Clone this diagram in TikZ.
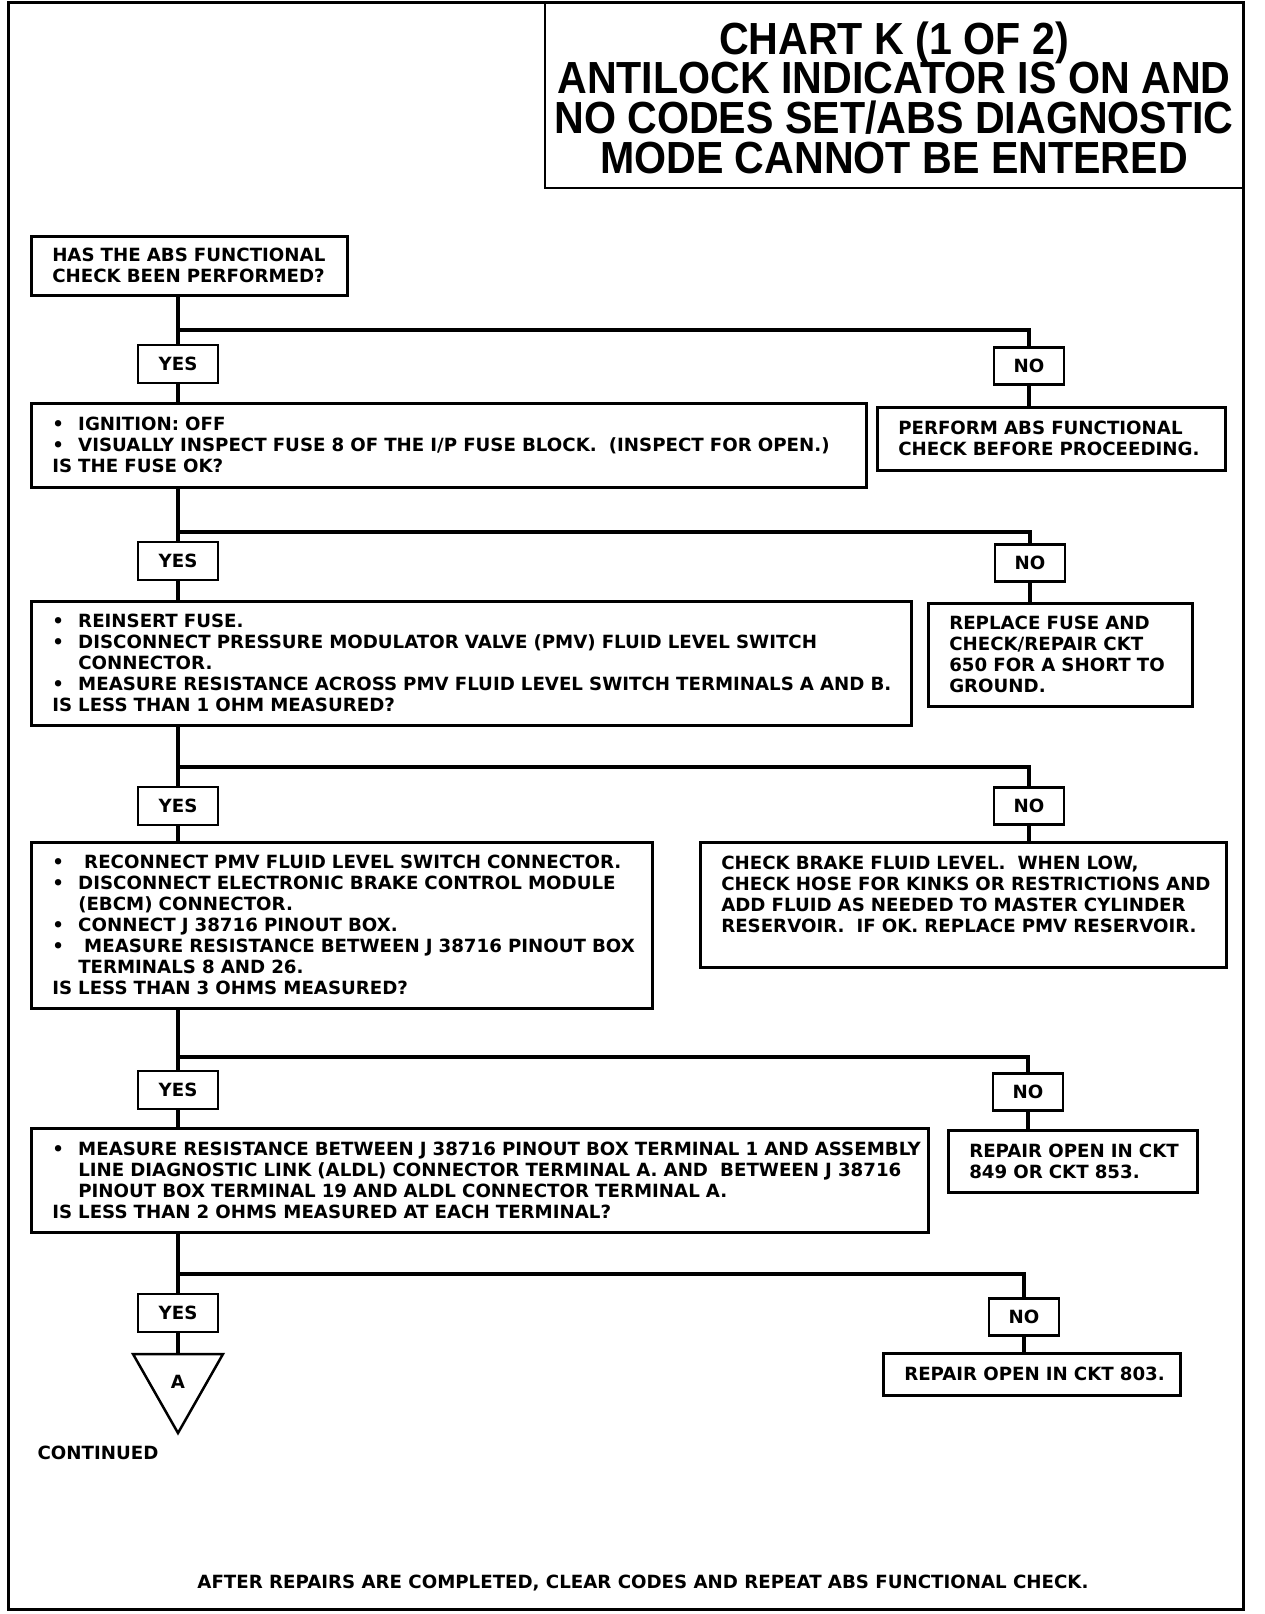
\documentclass[tikz,border=0pt]{standalone}
\usepackage{fontspec}
\newfontfamily\bodyfont{DejaVu Sans}
\newfontfamily\titlefont{Liberation Sans}[FakeStretch=0.915]
\newcommand{\bul}{\makebox[26pt][l]{•}}
\newcommand{\ind}{\hspace*{26pt}}
\newcommand{\li}[1]{\mbox{#1}}
\newcommand{\tline}[1]{\hbox to 0pt{\hss #1\hss}}
\begin{document}
\begin{tikzpicture}[x=1pt,y=-1pt,
  txt/.style={font=\bodyfont\bfseries\fontsize{18.2}{21}\selectfont},
  box/.style={txt, draw, line width=2.5pt, rectangle, anchor=north west, inner xsep=21pt, inner ysep=0pt, align=left},
  yesbox/.style={txt, draw, line width=2.5pt, minimum width=80pt, minimum height=38pt, inner sep=0pt},
  nobox/.style={txt, draw, line width=2.5pt, minimum width=70pt, minimum height=37pt, inner sep=0pt},
  conn/.style={line width=4.5pt},
  ttl/.style={font=\titlefont\bfseries\fontsize{45}{40}\selectfont, anchor=base, inner sep=0pt}
]
\useasboundingbox (0,0) rectangle (1264,1614);
% frame and title box
\draw[line width=3pt] (8,2) rectangle (1243,1609);
\draw[line width=2.5pt] (545,2) -- (545,188) -- (1243,188);
\node[ttl] (title) at (894,54) {\vtop{\baselineskip=39.7pt\lineskiplimit=-100pt
  \tline{CHART K (1 OF 2)}
  \tline{ANTILOCK INDICATOR IS ON AND}
  \tline{NO CODES SET/ABS DIAGNOSTIC}
  \tline{MODE CANNOT BE ENTERED}}};

% main boxes
\node[box, minimum width=316pt, minimum height=59pt, text width=274pt] (b1) at (30,235)
 {\li{HAS THE ABS FUNCTIONAL}\\\li{CHECK BEEN PERFORMED?}};
\node[box, minimum width=835pt, minimum height=84pt, text width=793pt] (b2) at (30,402)
 {\li{\bul IGNITION: OFF}\\
  \li{\bul VISUALLY INSPECT FUSE 8 OF THE I/P FUSE BLOCK.\ \ (INSPECT FOR OPEN.)}\\
  \li{IS THE FUSE OK?}};
\node[box, minimum width=880pt, minimum height=124pt, text width=838pt] (b3) at (30,600)
 {\li{\bul REINSERT FUSE.}\\
  \li{\bul DISCONNECT PRESSURE MODULATOR VALVE (PMV) FLUID LEVEL SWITCH}\\
  \li{\ind CONNECTOR.}\\
  \li{\bul MEASURE RESISTANCE ACROSS PMV FLUID LEVEL SWITCH TERMINALS A AND B.}\\
  \li{IS LESS THAN 1 OHM MEASURED?}};
\node[box, minimum width=621pt, minimum height=166pt, text width=579pt] (b4) at (30,841)
 {\li{\bul\hspace{6pt}RECONNECT PMV FLUID LEVEL SWITCH CONNECTOR.}\\
  \li{\bul DISCONNECT ELECTRONIC BRAKE CONTROL MODULE}\\
  \li{\ind (EBCM) CONNECTOR.}\\
  \li{\bul CONNECT J 38716 PINOUT BOX.}\\
  \li{\bul\hspace{6pt}MEASURE RESISTANCE BETWEEN J 38716 PINOUT BOX}\\
  \li{\ind TERMINALS 8 AND 26.}\\
  \li{IS LESS THAN 3 OHMS MEASURED?}};
\node[box, minimum width=897pt, minimum height=104pt, text width=855pt] (b5) at (30,1127)
 {\li{\bul MEASURE RESISTANCE BETWEEN J 38716 PINOUT BOX TERMINAL 1 AND ASSEMBLY}\\
  \li{\ind LINE DIAGNOSTIC LINK (ALDL) CONNECTOR TERMINAL A. AND\ \ BETWEEN J 38716}\\
  \li{\ind PINOUT BOX TERMINAL 19 AND ALDL CONNECTOR TERMINAL A.}\\
  \li{IS LESS THAN 2 OHMS MEASURED AT EACH TERMINAL?}};

% result boxes
\node[box, minimum width=348pt, minimum height=63pt, text width=306pt] (r1) at (876,406)
 {\li{PERFORM ABS FUNCTIONAL}\\\li{CHECK BEFORE PROCEEDING.}};
\node[box, minimum width=264pt, minimum height=103pt, text width=222pt] (r2) at (927,602)
 {\li{REPLACE FUSE AND}\\\li{CHECK/REPAIR CKT}\\\li{650 FOR A SHORT TO}\\\li{GROUND.}};
\node[box, minimum width=526pt, minimum height=125pt, text width=484pt] (r3) at (699,841)
 {\li{CHECK BRAKE FLUID LEVEL.\ \ WHEN LOW,}\\
  \li{CHECK HOSE FOR KINKS OR RESTRICTIONS AND}\\
  \li{ADD FLUID AS NEEDED TO MASTER CYLINDER}\\
  \li{RESERVOIR.\ \ IF OK. REPLACE PMV RESERVOIR.}\\\mbox{}};
\node[box, minimum width=249pt, minimum height=62pt, text width=207pt] (r4) at (947,1129)
 {\li{REPAIR OPEN IN CKT}\\\li{849 OR CKT 853.}};
\node[box, minimum width=297pt, minimum height=42pt, text width=255pt] (r5) at (882,1352)
 {\li{REPAIR OPEN IN CKT 803.}};

% yes / no boxes
\node[yesbox] (y1) at (178,364) {YES};
\node[yesbox] (y2) at (178,561) {YES};
\node[yesbox] (y3) at (178,806) {YES};
\node[yesbox] (y4) at (178,1090) {YES};
\node[yesbox] (y5) at (178,1313) {YES};
\node[nobox] (n1) at (1029,366) {NO};
\node[nobox] (n2) at (1030,563) {NO};
\node[nobox] (n3) at (1029,806) {NO};
\node[nobox] (n4) at (1028,1092) {NO};
\node[nobox] (n5) at (1024,1317) {NO};

% junctions
\coordinate (j1) at (178,330);
\coordinate (j2) at (178,532);
\coordinate (j3) at (178,767);
\coordinate (j4) at (178,1057);
\coordinate (j5) at (178,1274);
\coordinate (tri) at (178,1354);

% connectors
\draw[conn] (y1.north |- b1.south) -- (y1.north);
\draw[conn] (y1.south) -- (y1.south |- b2.north);
\draw[conn] (j1) -| (n1.north);
\draw[conn] (n1.south) -- (n1.south |- r1.north);

\draw[conn] (y2.north |- b2.south) -- (y2.north);
\draw[conn] (y2.south) -- (y2.south |- b3.north);
\draw[conn] (j2) -| (n2.north);
\draw[conn] (n2.south) -- (n2.south |- r2.north);

\draw[conn] (y3.north |- b3.south) -- (y3.north);
\draw[conn] (y3.south) -- (y3.south |- b4.north);
\draw[conn] (j3) -| (n3.north);
\draw[conn] (n3.south) -- (n3.south |- r3.north);

\draw[conn] (y4.north |- b4.south) -- (y4.north);
\draw[conn] (y4.south) -- (y4.south |- b5.north);
\draw[conn] (j4) -| (n4.north);
\draw[conn] (n4.south) -- (n4.south |- r4.north);

\draw[conn] (y5.north |- b5.south) -- (y5.north);
\draw[conn] (y5.south) -- (tri);
\draw[conn] (j5) -| (n5.north);
\draw[conn] (n5.south) -- (n5.south |- r5.north);

% continuation triangle
\draw[line width=2.5pt, line join=miter] (133,1354) -- (223,1354) -- (178,1433) -- cycle;
\node[txt] (a) at (178,1382) {A};
\node[txt] (cont) at (98,1453) {CONTINUED};

% footer
\node[txt] (foot) at (643,1583) {AFTER REPAIRS ARE COMPLETED, CLEAR CODES AND REPEAT ABS FUNCTIONAL CHECK.};
\end{tikzpicture}
\end{document}
